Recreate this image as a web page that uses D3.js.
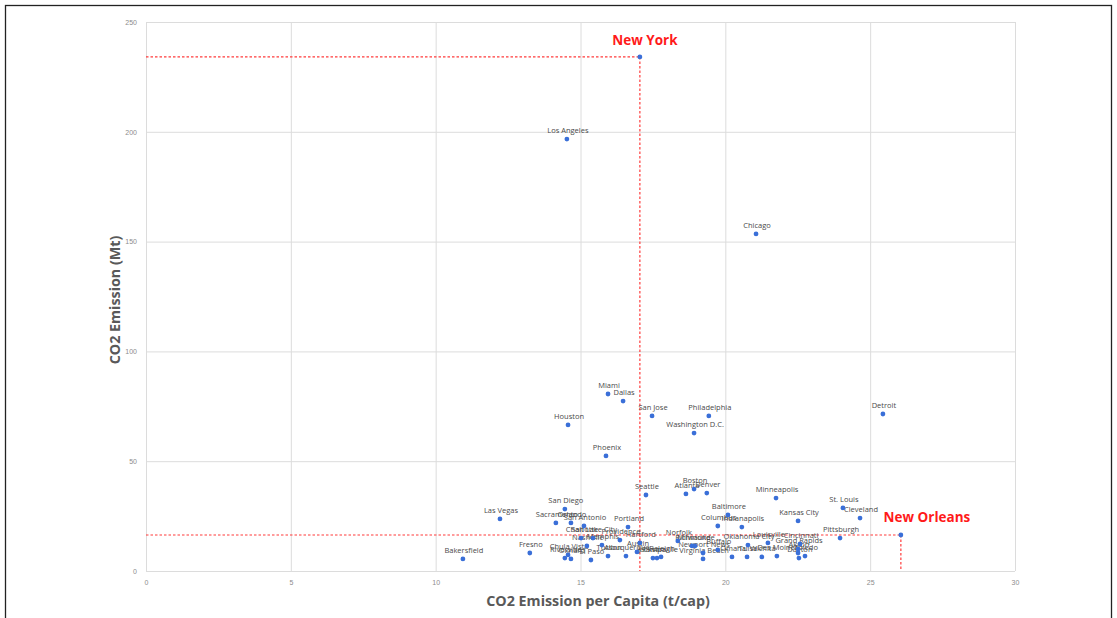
<!DOCTYPE html>
<html>
<head>
<meta charset="utf-8">
<script src="https://cdn.jsdelivr.net/npm/d3@7"></script>
<style>
body { margin: 0; background: #fff; }
svg { display: block; font-family: "Open Sans", "Noto Sans", sans-serif; }
.tick text { fill: #8c8c8c; font-size: 7px; }
.grid line { stroke: #dcdcdc; }
.grid path { display: none; }
.lbl { fill: #4a4a4a; font-size: 7.5px; }
.title { fill: #595959; font-size: 14.3px; font-weight: bold; }
.hl { fill: #ff1a1a; font-size: 13.5px; font-weight: bold; }
</style>
</head>
<body>
<svg width="1117" height="618"></svg>
<script>
// city names, CO2 per capita (t/cap), CO2 emission (Mt)
var cities = ["New York","Los Angeles","Chicago","Miami","Dallas","San Jose","Philadelphia",
  "Washington D.C.","Detroit","Houston","Phoenix","Seattle","Atlanta","Boston","Denver",
  "Minneapolis","Baltimore","Columbus","Indianapolis","Kansas City","St. Louis","Cleveland",
  "Pittsburgh","Las Vegas","San Diego","Sacramento","Orlando","San Antonio","Portland",
  "Salt Lake City","Bakersfield","Fresno","New Orleans",
  "Riverside","Oxnard","Chula Vista","El Paso","Tucson","Albuquerque","Austin","Tampa",
  "Jacksonville","Raleigh","Virginia Beach","Newport News","Omaha","Tulsa","Wichita",
  "Des Moines","Dayton","Toledo","Akron","Grand Rapids","Cincinnati","Louisville",
  "Charlotte","Nashville","Memphis","Norfolk","Richmond","Milwaukee","Buffalo",
  "Oklahoma City","Hartford","Providence"];
var perCapita = [17.05,14.53,21.06,15.95,16.47,17.47,19.43,
  18.92,25.44,14.57,15.88,17.26,18.64,18.92,19.36,
  21.75,20.09,19.74,20.57,22.51,24.06,24.65,
  23.96,12.22,14.46,14.15,14.67,15.12,16.64,
  15.43,10.94,13.25,26.06,
  14.46,14.67,14.57,15.36,15.95,16.57,16.95,17.5,
  17.64,17.78,19.23,19.23,20.23,20.75,21.26,
  21.78,22.54,22.75,22.51,22.51,22.58,21.47,
  15.02,15.22,15.74,18.36,18.85,18.95,19.74,
  20.78,17.05,16.36];
var emission = [234.1,196.7,153.5,80.6,77.4,70.6,70.6,
  62.8,71.5,66.5,52.4,34.6,35.1,37.3,35.5,
  33.2,25.5,20.5,20.0,22.8,28.7,24.1,
  15.0,23.7,28.2,21.9,21.9,20.5,20.0,
  15.0,5.5,8.2,16.4,
  5.9,5.5,7.3,5.0,6.8,6.8,8.7,5.9,
  5.9,6.4,5.5,8.2,6.4,6.4,6.4,
  6.8,5.9,6.8,8.2,10.0,12.3,12.8,
  15.0,11.4,11.8,13.7,11.4,11.4,9.6,
  11.8,12.8,14.1];
var highlighted = ["New York","New Orleans"];
var xTicks = [0,5,10,15,20,25,30];
var yTicks = [0,50,100,150,200,250];

var data = cities.map(function(c, i) {
  return {city: c, pc: perCapita[i], em: emission[i]};
});

var svg = d3.select("svg");

// outer frame
svg.append("rect")
  .attr("x", 5.5).attr("y", 5.5)
  .attr("width", 1106).attr("height", 640)
  .attr("fill", "none").attr("stroke", "#222").attr("stroke-width", 1.3);

var xScale = d3.scaleLinear().domain([0,30]).range([146,1015]);
var yScale = d3.scaleLinear().domain([0,250]).range([571,22]);

// grid + ticks
svg.append("g")
  .attr("class","grid")
  .attr("transform","translate(0,571)")
  .call(d3.axisBottom(xScale).tickValues(xTicks).tickSize(-549).tickPadding(9));

svg.append("g")
  .attr("class","grid")
  .attr("transform","translate(146,0)")
  .call(d3.axisLeft(yScale).tickValues(yTicks).tickSize(-869).tickPadding(9));

svg.selectAll(".grid .tick text").attr("fill", "#8c8c8c");

// axis titles
svg.append("text")
  .attr("class","title")
  .attr("x", 598).attr("y", 606)
  .attr("text-anchor","middle")
  .text("CO2 Emission per Capita (t/cap)");

svg.append("text")
  .attr("class","title")
  .attr("transform","translate(120,300) rotate(-90)")
  .attr("text-anchor","middle")
  .text("CO2 Emission (Mt)");

// reference lines for highlighted cities
var hl = data.filter(function(d) { return highlighted.indexOf(d.city) >= 0; });

svg.selectAll(".refh")
  .data(hl)
  .enter()
  .append("line")
  .attr("x1", xScale(0)).attr("x2", (d)=>xScale(d.pc))
  .attr("y1", (d)=>yScale(d.em)).attr("y2", (d)=>yScale(d.em))
  .attr("stroke", "#ff3b3b").attr("stroke-width", 1.2)
  .attr("stroke-dasharray", "2.5,2");

svg.selectAll(".refv")
  .data(hl)
  .enter()
  .append("line")
  .attr("x1", (d)=>xScale(d.pc)).attr("x2", (d)=>xScale(d.pc))
  .attr("y1", (d)=>yScale(d.em)).attr("y2", yScale(0))
  .attr("stroke", "#ff3b3b").attr("stroke-width", 1.2)
  .attr("stroke-dasharray", "2.5,2");

// city labels
var normal = data.filter(function(d) { return highlighted.indexOf(d.city) < 0; });

svg.selectAll(".lbl")
  .data(normal)
  .enter()
  .append("text")
  .attr("class","lbl")
  .attr("x", (d)=>xScale(d.pc) + 1)
  .attr("y", (d)=>yScale(d.em) - 6)
  .attr("text-anchor","middle")
  .text((d)=>d.city);

// points
svg.selectAll(".dot")
  .data(data)
  .enter()
  .append("circle")
  .attr("cx", (d)=>xScale(d.pc))
  .attr("cy", (d)=>yScale(d.em))
  .attr("r", 2.4)
  .attr("fill", "#3a6fd8");

// highlighted labels with white backing
var hg = svg.selectAll(".hlg")
  .data(hl)
  .enter()
  .append("g")
  .attr("transform", function(d) {
    return "translate(" + (xScale(d.pc) + (d.city === "New York" ? 5 : 26)) + "," + (yScale(d.em) - (d.city === "New York" ? 12 : 13)) + ")";
  });

hg.append("rect")
  .attr("x", (d)=>d.city === "New York" ? -36 : -46)
  .attr("y", -12)
  .attr("width", (d)=>d.city === "New York" ? 72 : 92)
  .attr("height", 16)
  .attr("fill", "#fff");

hg.append("text")
  .attr("class","hl")
  .attr("text-anchor","middle")
  .text((d)=>d.city);
</script>
</body>
</html>
